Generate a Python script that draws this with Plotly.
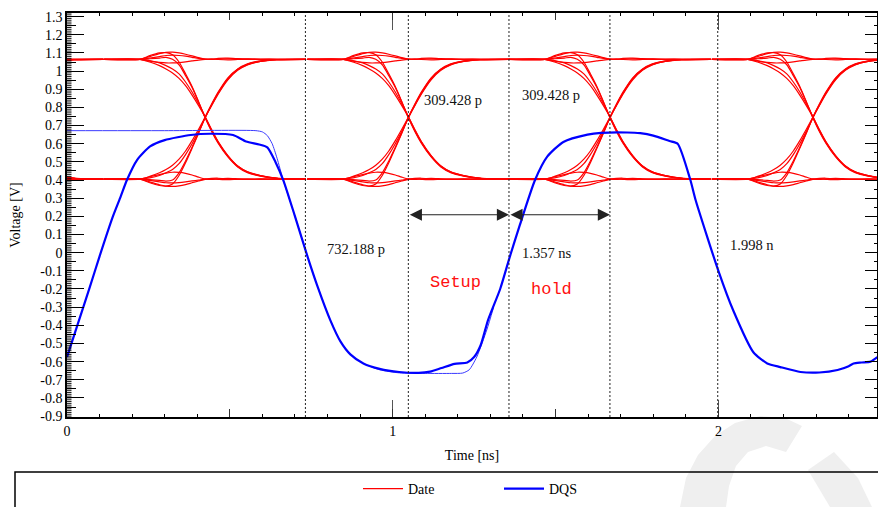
import plotly.graph_objects as go

# ---------------- data ----------------
# Date (DQ) eye diagram: crossing instants [ns] and edge / level profiles [V]
date_cross_t = [-0.198, 0.424, 1.048, 1.667, 2.290, 2.912]
win_dt = [-0.31, -0.20, -0.17, -0.14, -0.12, -0.10, -0.08, -0.06, -0.04, -0.02,
          0.0, 0.02, 0.04, 0.07, 0.10, 0.13, 0.17, 0.22, 0.31]
rise_a = [0.405, 0.405, 0.402, 0.398, 0.394, 0.400, 0.440, 0.505, 0.580, 0.660,
          0.745, 0.815, 0.880, 0.960, 1.010, 1.038, 1.055, 1.063, 1.065]
rise_b = [0.405, 0.405, 0.385, 0.370, 0.366, 0.378, 0.425, 0.495, 0.575, 0.658,
          0.745, 0.818, 0.884, 0.963, 1.012, 1.040, 1.057, 1.064, 1.065]
rise_c = [0.405, 0.405, 0.420, 0.440, 0.458, 0.482, 0.515, 0.560, 0.617, 0.680,
          0.745, 0.810, 0.873, 0.952, 1.004, 1.034, 1.053, 1.062, 1.065]
rise_d = [0.405, 0.405, 0.412, 0.425, 0.440, 0.458, 0.490, 0.540, 0.600, 0.668,
          0.742, 0.812, 0.877, 0.956, 1.007, 1.036, 1.054, 1.063, 1.065]
fall_a = [1.065, 1.065, 1.068, 1.072, 1.076, 1.065, 1.035, 0.975, 0.910, 0.830,
          0.745, 0.672, 0.607, 0.530, 0.475, 0.443, 0.423, 0.410, 0.405]
fall_b = [1.065, 1.065, 1.085, 1.100, 1.102, 1.090, 1.050, 0.985, 0.915, 0.832,
          0.745, 0.668, 0.603, 0.527, 0.472, 0.441, 0.422, 0.409, 0.405]
fall_c = [1.065, 1.065, 1.050, 1.030, 1.012, 0.990, 0.960, 0.920, 0.868, 0.810,
          0.748, 0.678, 0.612, 0.535, 0.478, 0.446, 0.425, 0.411, 0.405]
fall_d = [1.065, 1.065, 1.058, 1.045, 1.030, 1.012, 0.985, 0.940, 0.885, 0.820,
          0.750, 0.675, 0.610, 0.533, 0.477, 0.445, 0.424, 0.410, 0.405]
stay_hi_1 = [1.065, 1.065, 1.080, 1.096, 1.103, 1.104, 1.100, 1.093, 1.084, 1.074,
             1.066, 1.064, 1.066, 1.068, 1.066, 1.065, 1.064, 1.065, 1.065]
stay_hi_2 = [1.065, 1.065, 1.055, 1.048, 1.045, 1.045, 1.047, 1.051, 1.056, 1.061,
             1.065, 1.067, 1.064, 1.062, 1.064, 1.066, 1.066, 1.065, 1.065]
stay_hi_3 = [1.065, 1.065, 1.072, 1.080, 1.086, 1.088, 1.086, 1.082, 1.076, 1.070,
             1.066, 1.065, 1.070, 1.071, 1.069, 1.067, 1.065, 1.065, 1.065]
stay_lo_1 = [0.405, 0.405, 0.390, 0.374, 0.367, 0.365, 0.368, 0.375, 0.385, 0.395,
             0.404, 0.406, 0.404, 0.402, 0.404, 0.405, 0.406, 0.405, 0.405]
stay_lo_2 = [0.405, 0.405, 0.418, 0.430, 0.438, 0.443, 0.442, 0.437, 0.428, 0.416,
             0.406, 0.403, 0.407, 0.409, 0.407, 0.405, 0.404, 0.405, 0.405]
stay_lo_3 = [0.405, 0.405, 0.398, 0.390, 0.385, 0.384, 0.386, 0.390, 0.395, 0.400,
             0.405, 0.409, 0.410, 0.407, 0.405, 0.404, 0.405, 0.405, 0.405]

# DQS strobe (bold trace)
dqs_t = [0.0, 0.03, 0.07, 0.10, 0.141, 0.165, 0.184, 0.215, 0.255, 0.30, 0.38, 0.44,
         0.51, 0.55, 0.59, 0.615, 0.64, 0.664, 0.70, 0.74, 0.77, 0.808, 0.84, 0.87,
         0.91, 0.96, 1.02, 1.08, 1.115, 1.15, 1.19, 1.229, 1.25, 1.27, 1.293, 1.33,
         1.36, 1.39, 1.437, 1.475, 1.524, 1.598, 1.64, 1.72, 1.76, 1.80, 1.85, 1.875,
         1.914, 1.93, 2.0, 2.046, 2.108, 2.15, 2.19, 2.252, 2.31, 2.366, 2.40, 2.415,
         2.44, 2.467, 2.488]
dqs_v = [-0.575, -0.41, -0.19, -0.02, 0.20, 0.31, 0.40, 0.51, 0.585, 0.62, 0.648, 0.655,
         0.648, 0.612, 0.596, 0.58, 0.50, 0.40, 0.20, -0.03, -0.19, -0.37, -0.49, -0.56,
         -0.61, -0.64, -0.657, -0.662, -0.655, -0.635, -0.612, -0.605, -0.575, -0.51, -0.37, -0.20,
         -0.02, 0.15, 0.40, 0.53, 0.61, 0.65, 0.66, 0.662, 0.658, 0.645, 0.615, 0.60,
         0.40, 0.29, -0.10, -0.32, -0.55, -0.61, -0.63, -0.657, -0.66, -0.646, -0.625, -0.61,
         -0.605, -0.60, -0.575]
# DQS (thin companion trace)
dqs2_t = [0.0, 0.30, 0.58, 0.60, 0.615, 0.63, 0.645, 0.664, 0.70, 0.74, 0.77, 0.808,
          0.84, 0.87, 0.91, 0.96, 1.02, 1.10, 1.18, 1.215, 1.235, 1.258, 1.289, 1.31]
dqs2_v = [0.672, 0.672, 0.672, 0.665, 0.645, 0.60, 0.52, 0.40, 0.20, -0.03, -0.19, -0.37,
          -0.49, -0.56, -0.61, -0.645, -0.662, -0.665, -0.665, -0.663, -0.645, -0.575, -0.425, -0.30]

# timing markers [ns] and labels
marker_t = [0.732, 1.048, 1.357, 1.667, 1.998]
setup_span = [1.048, 1.357]
hold_span = [1.357, 1.667]
arrow_v = 0.209

time_ticks = [0, 1, 2]
time_labels = ["0", "1", "2"]
volt_ticks = [-0.9, -0.8, -0.7, -0.6, -0.5, -0.4, -0.3, -0.2, -0.1, 0, 0.1, 0.2, 0.3,
              0.4, 0.5, 0.6, 0.7, 0.8, 0.9, 1, 1.1, 1.2, 1.3]
volt_labels = ["-0.9", "-0.8", "-0.7", "-0.6", "-0.5", "-0.4", "-0.3", "-0.2", "-0.1", "0",
               "0.1", "0.2", "0.3", "0.4", "0.5", "0.6", "0.7", "0.8", "0.9", "1",
               "1.1", "1.2", "1.3"]

# ---------------- figure ----------------
XR = [0, 2.487]
YR = [-0.905, 1.32]
SERIF = "Liberation Serif"
tick_font = dict(family=SERIF, size=14, color="black")

date_profiles = [stay_hi_1, stay_hi_2, stay_hi_3, stay_lo_1, stay_lo_2, stay_lo_3,
                 rise_b, rise_c, rise_d, rise_a, fall_b, fall_c, fall_d, fall_a]
date_x, date_y = [], []
for c in date_cross_t:
    for prof in date_profiles:
        date_x += [c + d for d in win_dt] + [None]
        date_y += list(prof) + [None]

fig = go.Figure()
fig.add_trace(go.Scatter(x=date_x, y=date_y, mode="lines", name="Date",
                         line=dict(color="#ff0000", width=1.2, shape="spline", smoothing=0.7),
                         connectgaps=False, hoverinfo="skip"))
fig.add_trace(go.Scatter(x=dqs2_t, y=dqs2_v, mode="lines", name="DQS", showlegend=False,
                         legendgroup="dqs",
                         line=dict(color="#3a3aff", width=1.0, shape="spline", smoothing=0.6),
                         hoverinfo="skip"))
fig.add_trace(go.Scatter(x=dqs_t, y=dqs_v, mode="lines", name="DQS", legendgroup="dqs",
                         line=dict(color="#0000ff", width=2.2, shape="spline", smoothing=0.6),
                         hoverinfo="skip"))

# dummy traces to register the extra tick axes
for xa, ya in [("x", "y2"), ("x", "y4"), ("x", "y5"),
               ("x2", "y"), ("x3", "y"), ("x4", "y"), ("x5", "y"), ("x6", "y")]:
    fig.add_trace(go.Scatter(x=[None], y=[None], xaxis=xa, yaxis=ya, showlegend=False,
                             hoverinfo="skip", mode="lines"))

# pixel -> paper helpers for decorative items outside the plot area
L, R, T, B = 67, 877, 13, 417
def px(v):
    return (v - L) / (R - L)
def py(v):
    return (B - v) / (B - T)

shapes = []
for t in marker_t:
    shapes.append(dict(type="line", xref="x", yref="paper", x0=t, x1=t, y0=0, y1=1,
                       line=dict(color="#222222", width=1, dash="2px,2px"), layer="above"))

# dense 0.01 V comb of small ticks on the left axis
fine_ticks = [round(-0.90 + 0.01 * i, 2) for i in range(223)]
for v in fine_ticks:
    shapes.append(dict(type="line", xref="paper", yref="y", x0=0, x1=px(71.5), y0=v, y1=v,
                       line=dict(color="black", width=0.9), layer="above"))

# faint watermark
wm_a = [(680, 507), (686, 478), (698, 455), (715, 436), (735, 423), (760, 416), (785, 418),
        (802, 426), (786, 452), (766, 446), (748, 452), (736, 466), (729, 486), (726, 507)]
wm_b = [(808, 470), (834, 452), (858, 478), (872, 507), (830, 507)]
for poly in (wm_a, wm_b):
    path = "M" + " L".join(f"{px(a):.4f},{py(b):.4f}" for a, b in poly) + " Z"
    shapes.append(dict(type="path", xref="paper", yref="paper", path=path,
                       fillcolor="#efefef", line=dict(width=0), layer="below"))

# legend frame
shapes.append(dict(type="rect", xref="paper", yref="paper", x0=px(15), x1=px(900),
                   y0=py(472), y1=py(540), line=dict(color="black", width=1.5),
                   fillcolor="rgba(0,0,0,0)", layer="above"))

annotations = []
for span in (setup_span, hold_span):
    annotations.append(dict(x=span[1], y=arrow_v, ax=span[0], ay=arrow_v, xref="x", yref="y",
                            axref="x", ayref="y", text="", showarrow=True, arrowhead=2,
                            startarrowhead=2, arrowside="end+start", arrowsize=2.2,
                            startarrowsize=2.2, arrowwidth=1.1, arrowcolor="#222222",
                            standoff=0, startstandoff=0))
lab_font = dict(family=SERIF, size=14.5, color="#111111")
for txt, tx, ty in [("309.428 p", 1.089, 0.842), ("309.428 p", 1.390, 0.869),
                    ("732.188 p", 0.791, 0.022), ("1.357 ns", 1.390, 0.0),
                    ("1.998 n", 2.029, 0.044)]:
    annotations.append(dict(x=tx, y=ty, xref="x", yref="y", text=txt, showarrow=False,
                            xanchor="left", yanchor="middle", font=lab_font))
red_font = dict(family="Liberation Mono", size=17, color="#ff1010")
annotations.append(dict(x=1.192, y=-0.165, xref="x", yref="y", text="Setup", showarrow=False,
                        xanchor="center", yanchor="middle", font=red_font))
annotations.append(dict(x=1.489, y=-0.204, xref="x", yref="y", text="hold", showarrow=False,
                        xanchor="center", yanchor="middle", font=red_font))

common_x = dict(range=XR, showgrid=False, zeroline=False, fixedrange=True, automargin=False)
common_y = dict(range=YR, showgrid=False, zeroline=False, fixedrange=True, automargin=False)


def tick_axis(common, side, overlay, ticklen, color="black", dtick=None, vals=None,
              line=False):
    d = dict(**common, overlaying=overlay, side=side, ticks="inside", ticklen=ticklen,
             tickwidth=1, tickcolor=color, showticklabels=False, showline=line)
    if line:
        d.update(linecolor="black", linewidth=1.5)
    if vals is not None:
        d.update(tickmode="array", tickvals=vals)
    else:
        d.update(tickmode="linear", tick0=0, dtick=dtick)
    return d


fig.update_layout(
    width=878, height=507,
    margin=dict(l=L, r=878 - R, t=T, b=507 - B, autoexpand=False),
    paper_bgcolor="white", plot_bgcolor="white",
    showlegend=True,
    legend=dict(orientation="h", x=px(358), xanchor="left", y=py(489), yanchor="middle",
                bgcolor="rgba(0,0,0,0)", font=dict(family=SERIF, size=14, color="black"),
                itemwidth=40, entrywidth=86, entrywidthmode="pixels"),
    xaxis=dict(**common_x, tickmode="array", tickvals=time_ticks, ticktext=time_labels,
               ticks="inside", ticklen=17, tickwidth=1.2, tickcolor="#555555",
               showline=True, linecolor="black", linewidth=1.5, tickfont=tick_font,
               title=dict(text="Time [ns]", font=tick_font, standoff=13)),
    xaxis2=dict(**tick_axis(common_x, "bottom", "x", 3, dtick=0.1), anchor="y"),
    xaxis5=dict(**tick_axis(common_x, "bottom", "x", 8, color="#333333", dtick=0.5), anchor="y"),
    xaxis3=dict(**tick_axis(common_x, "top", "x", 3, dtick=0.1, line=True), anchor="y"),
    xaxis6=dict(**tick_axis(common_x, "top", "x", 7, color="#333333", dtick=0.5), anchor="y"),
    xaxis4=dict(**tick_axis(common_x, "top", "x", 17, color="#555555", vals=[1, 2]), anchor="y"),
    yaxis=dict(**common_y, tickmode="array", tickvals=volt_ticks, ticktext=volt_labels,
               ticks="inside", ticklen=17, tickwidth=1, tickcolor="black",
               showline=True, linecolor="black", linewidth=1.5, tickfont=tick_font,
               title=dict(text="Voltage [V]", font=tick_font, standoff=16)),
    yaxis2=dict(**tick_axis(common_y, "left", "y", 9, dtick=0.05), anchor="x"),
    yaxis4=dict(**tick_axis(common_y, "right", "y", 3, dtick=0.05, line=True), anchor="x"),
    yaxis5=dict(**tick_axis(common_y, "right", "y", 12, dtick=0.1), anchor="x"),
    shapes=shapes,
    annotations=annotations,
)

fig.write_html("out.html", config={"displayModeBar": False},
               post_script="document.body.style.margin='0';document.body.style.overflow='hidden';")
